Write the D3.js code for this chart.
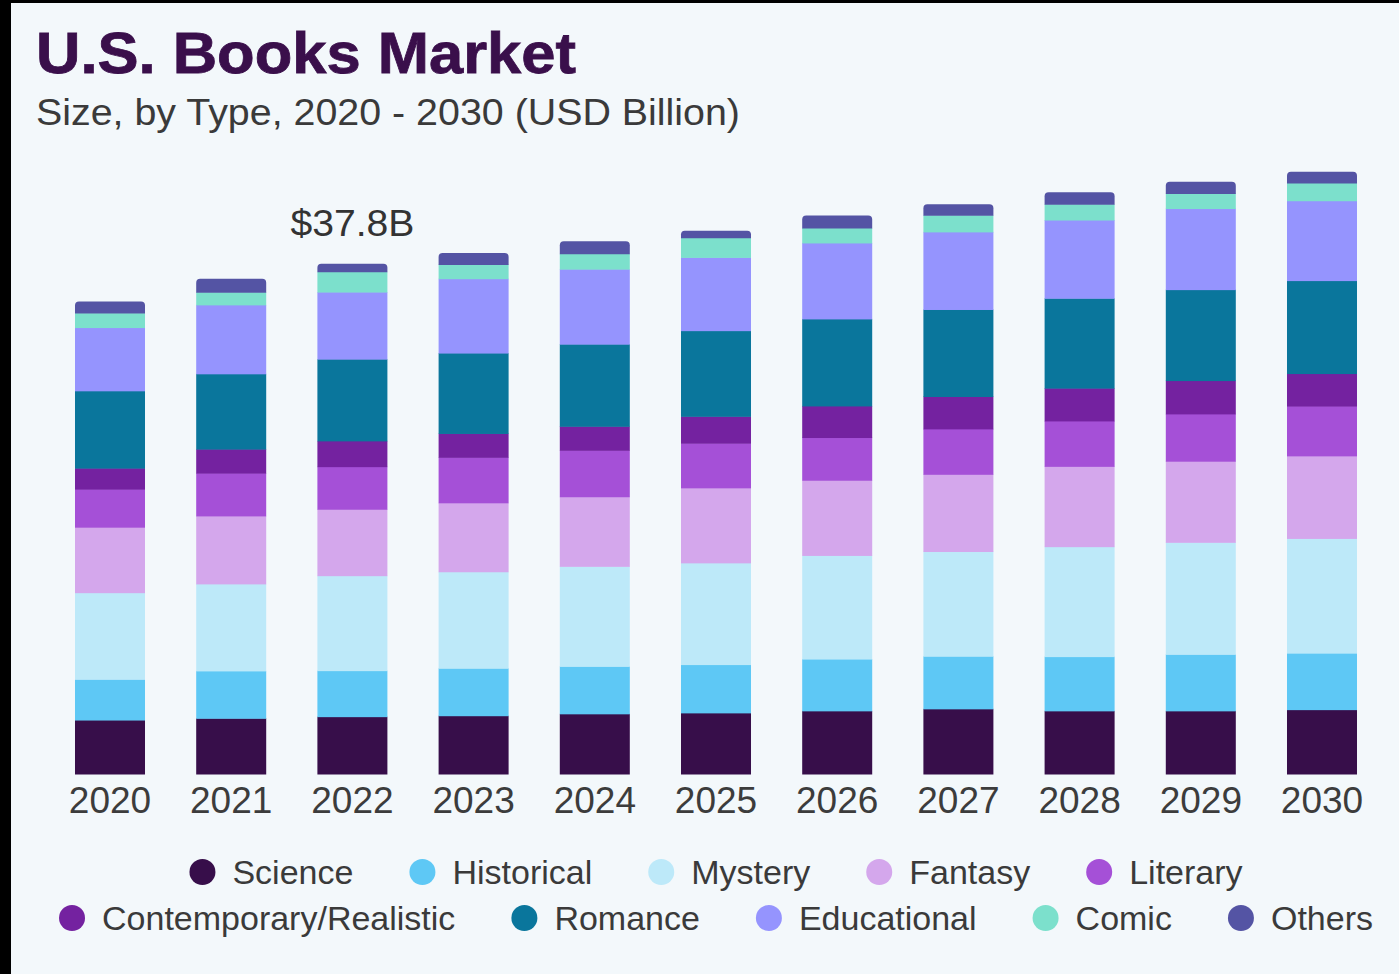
<!DOCTYPE html>
<html>
<head>
<meta charset="utf-8">
<script src="https://cdn.jsdelivr.net/npm/d3@7"></script>
<style>
  html, body { margin: 0; padding: 0; background: #000; }
  svg { display: block; font-family: "Liberation Sans", Arial, sans-serif; }
</style>
</head>
<body>
<div id="chart"></div>
<script>
// U.S. Books Market - stacked bars by type, 2020-2030 (USD Billion)

const years = ["2020", "2021", "2022", "2023", "2024", "2025", "2026", "2027", "2028", "2029", "2030"];

const science      = [4.00, 4.13, 4.25, 4.32, 4.46, 4.53, 4.68, 4.83, 4.68, 4.68, 4.77];
const historical   = [3.02, 3.51, 3.41, 3.52, 3.52, 3.58, 3.84, 3.90, 4.02, 4.19, 4.19];
const mystery      = [6.42, 6.45, 7.04, 7.15, 7.41, 7.54, 7.68, 7.76, 8.15, 8.30, 8.50];
const fantasy      = [4.85, 5.04, 4.92, 5.11, 5.16, 5.56, 5.57, 5.72, 5.95, 6.01, 6.12];
const literary     = [2.82, 3.17, 3.16, 3.37, 3.44, 3.31, 3.17, 3.37, 3.37, 3.51, 3.69];
const contemporary = [1.56, 1.78, 1.91, 1.77, 1.78, 1.99, 2.34, 2.40, 2.43, 2.47, 2.41];
const romance      = [5.73, 5.58, 6.06, 5.96, 6.09, 6.35, 6.45, 6.45, 6.66, 6.74, 6.89];
const educational  = [4.69, 5.11, 4.97, 5.51, 5.56, 5.43, 5.63, 5.75, 5.80, 6.01, 5.92];
const comic        = [1.07, 0.94, 1.50, 1.06, 1.14, 1.45, 1.11, 1.23, 1.17, 1.11, 1.32];
const others       = [0.86, 0.99, 0.59, 0.85, 0.93, 0.53, 0.93, 0.82, 0.88, 0.88, 0.82];

const seriesNames = ["Science", "Historical", "Mystery", "Fantasy", "Literary",
  "Contemporary/Realistic", "Romance", "Educational", "Comic", "Others"];
const seriesValues = [science, historical, mystery, fantasy, literary,
  contemporary, romance, educational, comic, others];
const seriesColors = ["#370e4a", "#5ec8f5", "#bde9f9", "#d4a7ec", "#a550d7",
  "#7422a0", "#0a769c", "#9594fe", "#7ce0cc", "#5454a4"];

const legendRows = [
  ["Science", "Historical", "Mystery", "Fantasy", "Literary"],
  ["Contemporary/Realistic", "Romance", "Educational", "Comic", "Others"]
];

const highlightYear = "2022";
const highlightLabel = "$37.8B";

// build rows for d3.stack
const rows = years.map((yr, i) => {
  const row = { year: yr };
  seriesNames.forEach((name, k) => { row[name] = seriesValues[k][i]; });
  return row;
});

const W = 1399, H = 974;
const svg = d3.select("#chart").append("svg")
  .attr("width", W)
  .attr("height", H);

// frame + background
svg.append("rect").attr("x", 0).attr("y", 0).attr("width", W).attr("height", H).attr("fill", "#000");
svg.append("rect").attr("x", 11).attr("y", 3).attr("width", W - 11).attr("height", H - 3).attr("fill", "#f3f8fb");

// title
svg.append("text")
  .attr("x", 36).attr("y", 73)
  .attr("font-size", 58)
  .attr("font-weight", "bold")
  .attr("fill", "#3a0f4b")
  .attr("stroke", "#3a0f4b")
  .attr("stroke-width", 0.8)
  .attr("textLength", 540)
  .attr("lengthAdjust", "spacingAndGlyphs")
  .text("U.S. Books Market");

svg.append("text")
  .attr("x", 36).attr("y", 125)
  .attr("font-size", 36)
  .attr("fill", "#3a3a3a")
  .attr("textLength", 704)
  .attr("lengthAdjust", "spacingAndGlyphs")
  .text("Size, by Type, 2020 - 2030 (USD Billion)");

// scales
const x = d3.scaleBand()
  .domain(years)
  .range([49.4, 1382.6])
  .paddingInner(0.4224)
  .paddingOuter(0.2112);

const y = d3.scaleLinear()
  .domain([0, 37.8])
  .range([774, 264]);

const color = d3.scaleOrdinal().domain(seriesNames).range(seriesColors);

const stacked = d3.stack().keys(seriesNames)(rows);

const barG = svg.append("g");
const topIndex = seriesNames.length - 1;

stacked.forEach((layer, li) => {
  const g = barG.append("g").attr("fill", color(layer.key));
  if (li < topIndex) {
    g.selectAll("rect")
      .data(layer)
      .enter()
      .append("rect")
      .attr("x", (d) => x(d.data.year))
      .attr("y", (d) => y(d[1]))
      .attr("width", x.bandwidth())
      .attr("height", (d) => y(d[0]) - y(d[1]) + 0.5);
  } else {
    // top segment with rounded top corners
    g.selectAll("path")
      .data(layer)
      .enter()
      .append("path")
      .attr("d", (d) => {
        const x0 = x(d.data.year), x1 = x0 + x.bandwidth();
        const yt = y(d[1]), yb = y(d[0]) + 0.5;
        const r = Math.min(4, (yb - yt) / 2);
        return `M${x0},${yb}V${yt + r}Q${x0},${yt} ${x0 + r},${yt}H${x1 - r}Q${x1},${yt} ${x1},${yt + r}V${yb}Z`;
      });
  }
});

// x axis labels
const xAxis = d3.axisBottom(x).tickSize(0).tickPadding(0);
const axG = svg.append("g")
  .attr("transform", "translate(0,774)")
  .call(xAxis);
axG.select(".domain").remove();
axG.selectAll("text")
  .attr("y", 39)
  .attr("dy", 0)
  .attr("font-size", 37)
  .attr("font-family", "Liberation Sans, Arial, sans-serif")
  .attr("fill", "#3c3c3c");

// total annotation
const hiIdx = years.indexOf(highlightYear);
const hiTotal = d3.sum(seriesValues, (s) => s[hiIdx]);
svg.append("text")
  .attr("x", x(highlightYear) + x.bandwidth() / 2)
  .attr("y", y(hiTotal) - 28)
  .attr("text-anchor", "middle")
  .attr("font-size", 36)
  .attr("fill", "#333")
  .attr("textLength", 124)
  .attr("lengthAdjust", "spacingAndGlyphs")
  .text(highlightLabel);

// legend
const legendY = [872, 918];
const circleR = 13, textGap = 17, itemGap = 56;
const centerX = 716;

legendRows.forEach((names, ri) => {
  const row = svg.append("g");
  const items = names.map((name) => {
    const g = row.append("g");
    g.append("circle")
      .attr("cx", circleR)
      .attr("cy", 0)
      .attr("r", circleR)
      .attr("fill", color(name));
    const t = g.append("text")
      .attr("x", circleR * 2 + textGap)
      .attr("y", 12)
      .attr("font-size", 34)
      .attr("fill", "#3a3a3a")
      .text(name);
    const w = circleR * 2 + textGap + t.node().getComputedTextLength();
    return { g, w };
  });
  const total = d3.sum(items, (d) => d.w) + itemGap * (items.length - 1);
  let cx = centerX - total / 2;
  items.forEach((it) => {
    it.g.attr("transform", `translate(${cx},${legendY[ri]})`);
    cx += it.w + itemGap;
  });
});
</script>
</body>
</html>
